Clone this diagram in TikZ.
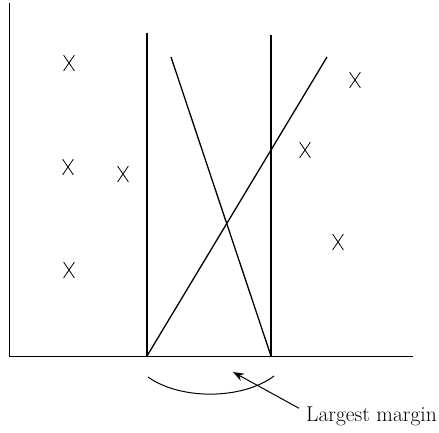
\documentclass[tikz,border=0pt]{standalone}
\usepackage{fontspec}
\usepackage{tikz}
\usetikzlibrary{arrows.meta,positioning,shapes.misc}
\tikzset{
  sample/.style={cross out,draw,line width=0.8pt,minimum width=10pt,minimum height=15pt,inner sep=0pt},
  bound/.style={line width=1.5pt},
  sep/.style={line width=1.3pt}
}

\begin{document}
\begin{tikzpicture}[x=1pt,y=-1pt]
    \useasboundingbox (0,0) rectangle (439,433);
    \draw[line width=1pt] (9,3)--(9,356)--(413,356);
    \draw[bound] (147,33)--(147,356);
    \draw[bound] (271,35)--(271,356);
    \draw[sep] (171,57)--(271,356);
    \draw[sep] (147,356)--(327,57);
    % training points
    \node[sample] (a1) at (69,63){};
    \node[sample] (a2) at (68,167){};
    \node[sample] (a3) at (123,174){};
    \node[sample] (a4) at (69,270){};
    \node[sample] (b1) at (355,80){};
    \node[sample] (b2) at (305,150){};
    \node[sample] (b3) at (338,242){};
    \draw[line width=1pt] (148,377) .. controls (180,400) and (242,400) .. (274,376);
    \node[font=\fontsize{21.5}{24}\selectfont,anchor=west,inner sep=0pt] (lbl) at (306,416){Largest margin};
    \coordinate (tip) at (233,372);
    \draw[line width=1pt,-{Stealth[length=11pt,width=8pt]}] ([xshift=-7pt,yshift=-2pt]lbl.north west)--(tip);
  \end{tikzpicture}
\end{document}
